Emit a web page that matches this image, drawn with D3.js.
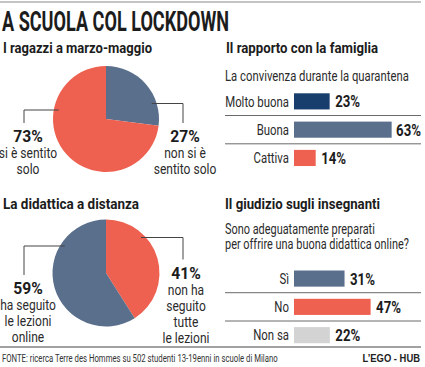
<!DOCTYPE html>
<html>
<head>
<meta charset="utf-8">
<script src="https://cdn.jsdelivr.net/npm/d3@7"></script>
<style>
  body { margin: 0; background: #fff; }
  svg { display: block; font-family: Roboto, "Liberation Sans", sans-serif; }
</style>
</head>
<body>
<script>
// data
var pie1Labels = ["non si è sentito solo", "si è sentito solo"];
var pie1Values = [27, 73];
var pie2Labels = ["non ha seguito tutte le lezioni", "ha seguito le lezioni online"];
var pie2Values = [41, 59];
var famCategories = ["Molto buona", "Buona", "Cattiva"];
var famValues = [23, 63, 14];
var teachCategories = ["Sì", "No", "Non sa"];
var teachValues = [31, 47, 22];

var W = 425, H = 367;
var dark = "#1c1c1c", mid = "#2b2b2b";
var blue = "#5a6f8c", orange = "#ee6150", navy = "#173e6d", grey = "#d3d3d3";
var NARROW = 0.76;   // squeeze factor to imitate a condensed face

var svg = d3.select("body").append("svg")
    .attr("width", W).attr("height", H);

svg.append("rect").attr("width", W).attr("height", H).attr("fill", "#fff");

// text squeezed horizontally around its anchor point
function sqText(parent, x, y, sx) {
  return parent.append("text")
    .attr("transform", "translate(" + x + "," + y + ") scale(" + sx + ",1)");
}

// top rule + title
svg.append("line").attr("x1", 0).attr("x2", 421).attr("y1", 2).attr("y2", 2)
    .attr("stroke", "#8a8a8a").attr("stroke-width", 1.2);
svg.append("text").attr("x", 2).attr("y", 31)
    .attr("font-size", 27).attr("font-weight", "bold").attr("fill", dark)
    .attr("textLength", 227).attr("lengthAdjust", "spacingAndGlyphs")
    .text("A SCUOLA COL LOCKDOWN");

function heading(x, y, txt, len) {
  svg.append("text").attr("x", x).attr("y", y)
    .attr("font-size", 15.5).attr("font-weight", "bold").attr("fill", dark)
    .attr("textLength", len).attr("lengthAdjust", "spacingAndGlyphs")
    .text(txt);
}
heading(3, 53, "I ragazzi a marzo-maggio", 149);
heading(226, 53, "Il rapporto con la famiglia", 152);
heading(3, 209, "La didattica a distanza", 136);
heading(225, 209, "Il giudizio sugli insegnanti", 155);

// pies
function drawPie(cx, cy, r, values, colors, labels) {
  var pie = d3.pie().sort(null).value(function(d) { return d; });
  var arc = d3.arc().innerRadius(0).outerRadius(r);
  var g = svg.append("g").attr("transform", "translate(" + cx + "," + cy + ")");
  g.selectAll("path").data(pie(values)).enter().append("path")
    .attr("d", arc)
    .attr("fill", function(d, i) { return colors[i]; });

  labels.forEach(function(l) {
    // leader: horizontal from inside the pie edge, then down to the label
    var dy = l.ly - cy;
    var edge = Math.sqrt(r * r - dy * dy) - 5;
    var x0 = cx + l.side * edge;
    svg.append("path")
      .attr("d", "M" + x0 + "," + l.ly + "H" + l.lx + "V" + l.ly2)
      .attr("fill", "none").attr("stroke", "#444").attr("stroke-width", 1);
    sqText(svg, l.tx, l.ty, 0.95)
      .attr("text-anchor", "middle").attr("fill", dark)
      .attr("font-size", 16.5).attr("font-weight", "bold")
      .text(values[l.i] + "%");
    var t = sqText(svg, l.tx, l.ty, 0.86)
      .attr("text-anchor", "middle").attr("fill", mid).attr("font-size", 14);
    l.lines.forEach(function(s, k) {
      t.append("tspan").attr("x", 0).attr("y", 16.5 + k * 16).text(s);
    });
  });
}

drawPie(106, 119, 53, pie1Values, [blue, orange], [
  {i: 1, side: -1, ly: 110, lx: 24, ly2: 123, tx: 28, ty: 142, lines: ["si è sentito", "solo"]},
  {i: 0, side: 1, ly: 103.5, lx: 183, ly2: 123, tx: 185, ty: 142, lines: ["non si è", "sentito solo"]}
]);
drawPie(106, 273, 53.5, pie2Values, [orange, blue], [
  {i: 1, side: -1, ly: 246, lx: 24, ly2: 275, tx: 28, ty: 293.5, lines: ["ha seguito", "le lezioni", "online"]},
  {i: 0, side: 1, ly: 237.5, lx: 183, ly2: 259.5, tx: 186, ty: 278.5, lines: ["non ha", "seguito", "tutte", "le lezioni"]}
]);

// subtitles
[["La convivenza durante la quarantena", 80.5, 14.5],
 ["Sono adeguatamente preparati", 233.5, 14],
 ["per offrire una buona didattica online?", 248.5, 14]].forEach(function(s) {
  sqText(svg, 225, s[1], NARROW + 0.02).attr("font-size", s[2]).attr("fill", mid).text(s[0]);
});

// bar charts
function drawBars(cats, values, colors, top, pxPerPct) {
  var x0 = 294;
  var x = d3.scaleLinear().domain([0, 100]).range([x0, x0 + 100 * pxPerPct]);
  var y = d3.scaleBand().domain(cats)
    .range([top, top + 28.3 * (cats.length - 0.43)])
    .paddingInner(0.43).paddingOuter(0);
  var bw = y.bandwidth(), gap = y.step() - bw;
  var g = svg.append("g");

  g.selectAll(".sep").data(cats.slice(0, -1)).enter().append("line")
    .attr("x1", 225).attr("x2", 421)
    .attr("y1", function(d) { return y(d) + bw + gap / 2; })
    .attr("y2", function(d) { return y(d) + bw + gap / 2; })
    .attr("stroke", "#6a6a6a").attr("stroke-width", 1);

  g.selectAll(".bar").data(values).enter().append("rect")
    .attr("x", x(0))
    .attr("y", function(d, i) { return y(cats[i]); })
    .attr("width", function(d) { return x(d) - x(0); })
    .attr("height", bw)
    .attr("fill", function(d, i) { return colors[i]; });

  cats.forEach(function(c, i) {
    var cy = y(c) + bw / 2;
    sqText(g, 289, cy + 5.3, NARROW)
      .attr("text-anchor", "end").attr("font-size", 15).attr("fill", mid)
      .text(c);
    var v = sqText(g, 0, 0, 0.8)
      .attr("font-size", 16.5).attr("font-weight", "bold").attr("fill", dark)
      .text(values[i] + "%");
    var w = v.node().getComputedTextLength() * 0.8;
    var vx = Math.min(x(values[i]) + 5.5, 421 - w);
    v.attr("transform", "translate(" + vx + "," + (cy + 6) + ") scale(0.8,1)");
  });
}
drawBars(famCategories, famValues, [navy, blue, orange], 93.3, 1.55);
drawBars(teachCategories, teachValues, [blue, orange, grey], 270.5, 1.63);

// footer
svg.append("line").attr("x1", 0).attr("x2", 421).attr("y1", 347).attr("y2", 347)
  .attr("stroke", "#444").attr("stroke-width", 1);
var fonte = svg.append("text").attr("font-size", 11).attr("fill", "#333")
  .text("FONTE: ricerca Terre des Hommes su 502 studenti 13-19enni in scuole di Milano");
var fsx = 276 / fonte.node().getComputedTextLength();
fonte.attr("transform", "translate(2,362) scale(" + fsx + ",1)");
sqText(svg, 420, 362, 0.82)
  .attr("text-anchor", "end")
  .attr("font-family", "Liberation Sans, Arial, sans-serif")
  .attr("font-size", 11.5).attr("font-weight", "bold").attr("fill", "#222")
  .text("L’EGO - HUB");
</script>
</body>
</html>
